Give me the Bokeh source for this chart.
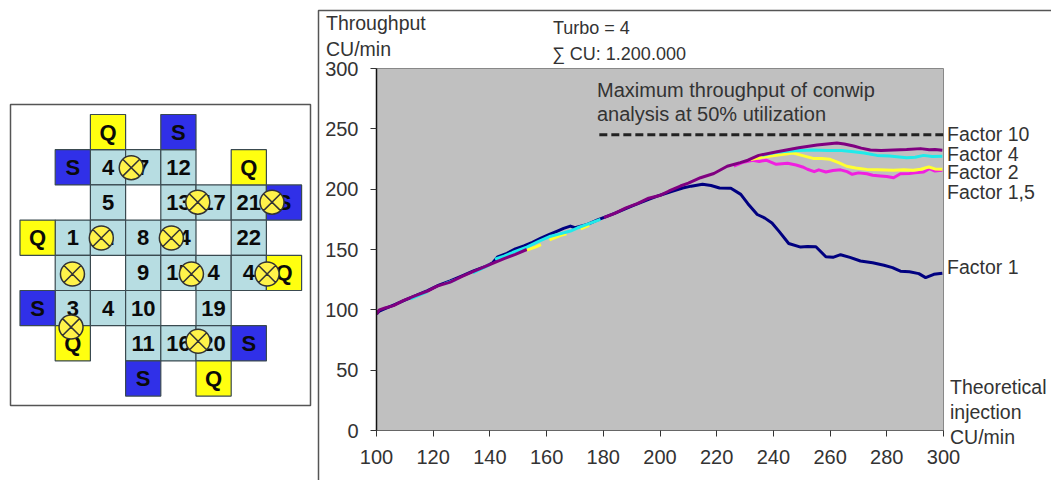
from bokeh.embed import file_html
from bokeh.resources import INLINE
from bokeh.models import ColumnDataSource, FixedTicker, LinearAxis, Range1d
from bokeh.plotting import figure
from bokeh.core.properties import value

FONT = "Liberation Sans"
TEXT = "#333333"

# ---- diagram ---- (col, row, label) in grid cells
cells_col = [2, 3, 4, 2, 4, 5, 6, 1, 2, 3, 4, 6, 1, 3, 4, 5, 6, 1, 2, 3, 5, 3, 4, 5]
cells_row = [1, 1, 1, 2, 2, 2, 2, 3, 3, 3, 3, 3, 4, 4, 4, 4, 4, 5, 5, 5, 5, 6, 6, 6]
cells_lab = ["4", "7", "12", "5", "13", "17", "21", "1", "2", "8", "14", "22", "2", "9", "15", "4", "4",
             "3", "4", "10", "19", "11", "16", "20"]
q_col = [2, 6, 0, 7, 1, 5]
q_row = [0, 1, 3, 4, 6, 7]
s_col = [4, 1, 7, 0, 6, 3]
s_row = [0, 1, 2, 5, 6, 7]
lamp_col = [3.16, 5.05, 7.16, 2.31, 4.30, 1.49, 4.87, 7.02, 1.45, 5.06]
lamp_row = [1.51, 2.49, 2.49, 3.51, 3.51, 4.53, 4.53, 4.53, 6.04, 6.44]

# ---- chart ----
x_ticks = [100, 120, 140, 160, 180, 200, 220, 240, 260, 280, 300]
y_ticks = [0, 50, 100, 150, 200, 250, 300]
grid_levels = [50, 100, 150, 200, 250]

f1_x = [100, 101, 103, 106, 110, 114, 118, 122, 126, 130, 134, 138, 141, 142.7, 146, 149, 152, 155, 158, 161, 164, 166,
        168.4, 170, 174, 178, 184, 190, 196, 200, 204, 208, 211, 215, 218, 221, 225, 228.5, 231, 234.3, 237, 239.5,
        242, 245.4, 249.6, 252, 255, 258.5, 261, 263.7, 267, 270.7, 275, 279, 282, 284.8, 288, 291.3, 293.7, 296.6, 299.6]
f1_y = [96.5, 99, 101, 104, 108, 112, 116, 120.5, 124, 128, 132, 135.5, 139, 143.8, 146.8, 150.5, 153, 156, 159.5, 162.6, 165.5, 167.5,
        169.4, 168, 170.5, 174.5, 180, 186, 191.5, 195, 198, 201, 202.5, 204, 203, 201, 200.7, 195.7, 188, 179, 176, 172,
        165, 155, 152, 152.5, 152.3, 144, 143.5, 145.7, 143.5, 140.5, 139, 137, 135, 132, 131.5, 130, 126.7, 129.4, 130.3]

f10_x = [100, 101, 103, 106, 109.6, 114, 118, 121.4, 126, 130, 133.2, 137, 141.4, 145, 149, 153, None,
         180.2, 184, 188, 192, 196, 200.2, 203.2, 207.2, 210, 214.3, 219, 223.7, 228.3, 231, 234.8, 241.3, 248.9,
         255.4, 262.4, 265, 268.3, 271, 274.2, 278, 282.4, 287, 291.9, 295, 297, 299.6]
f10_y = [96.5, 100, 101.5, 103.5, 107.9, 112, 115.5, 119.7, 123, 127.5, 130.8, 134.5, 139, 142.5, 146, 150, None,
         176.4, 180, 184.5, 188, 192.5, 195, 198.5, 202.6, 205, 209.5, 213, 219, 222, 224, 228, 231, 234.4,
         236.6, 238.3, 237.5, 235.8, 234, 232.4, 232, 232.4, 232.8, 233.6, 232.6, 232.9, 232.2]

f4_x = [112, 118, None, 124, 128, None, 134, 140, None, 141.8, 145, 148, 153, 157, 161.4, 164, 168.4, 171, 175, 179, None,
        236, 241, 245, 249, 254, 259, 264, 268.3, 272, 276.5, 281, 287, 290, 293, 296, 299.6]
f4_y = [109, 115, None, 121.5, 125, None, 130.5, 137.5, None, 142, 144.5, 147.5, 152, 156.5, 161, 162.5, 165.3, 168, 171.5, 175, None,
        228, 230.5, 231.5, 232, 232.5, 232, 232, 231, 230, 228, 227.5, 226, 226.5, 228, 227, 227.2]

f2_x = [153, 156, 158, None, 161, 165, 167, None, 172, 175, None, 232, 236, 241, 247, 250, 254, 257, 260, 263,
        265.8, 269, 272.9, 277, 282.3, 286, 289.3, 292, 294.8, 297, 299.6]
f2_y = [149.5, 152, 154, None, 158, 161.7, 163, None, 167, 170, None, 224.5, 226.5, 228, 230, 228, 225.5, 225.5, 224.7, 222,
        219, 217.5, 216.4, 216, 215.6, 216, 215.6, 216.5, 218.4, 216.8, 216.5]

f15_x = [226, 229, 232.7, 235, 237.4, 241, 245, 248, 250.3, 252, 254.4, 256, 258.5, 261, 263.7, 266, 267.8, 270,
         273, 275, 277.7, 280, 282.4, 284.8, 288, 290, 293, 295, 297, 299.6]
f15_y = [219, 222, 224, 223, 224, 220.6, 221.4, 220, 218.4, 216.5, 214.5, 216, 214.2, 215.5, 216, 214.5, 212.3, 213.5,
         212.8, 211.5, 210.9, 210.5, 209.5, 212.8, 213, 213.5, 214.2, 217, 215, 215.6]

dash_x = [178.6, 300]
dash_y = [245, 245]

# free texts on the page (x, y centre, size)
txt_x = [325.5, 325.5, 552.5, 551.5, 596.5, 596.5, 946.5, 946.5, 946.5, 946.5, 946.5, 949.5, 949.5, 949.5]
txt_y = [22, 48, 27, 53, 89, 113, 133, 153, 171, 191, 266, 386, 411, 436]
txt_s = ["Throughput", "CU/min", "Turbo = 4", "\u2211 CU: 1.200.000",
         "Maximum throughput of conwip", "analysis at 50% utilization",
         "Factor 10", "Factor 4", "Factor 2", "Factor 1,5", "Factor 1",
         "Theoretical", "injection", "CU/min"]
txt_size = ["19.5px", "19.5px", "18px", "18px", "20px", "20px"] + ["19.5px"] * 8

ABS = {"position": "absolute", "left": "0px", "top": "0px"}

# ---------------- left diagram -----------------
U = 35.2
GX, GY = 19.5, 114.0
def gx(px):
    return (px - GX) / U
def gy(py):
    return (py - GY) / U

left = figure(width=318, height=480, output_backend="svg", toolbar_location=None,
              x_range=Range1d(gx(0), gx(318)), y_range=Range1d(gy(480), gy(0)),
              min_border=0, outline_line_color=None, background_fill_color="white",
              border_fill_color="white", styles=ABS)
left.axis.visible = False
left.grid.visible = False

left.quad(left=[gx(10)], right=[gx(310)], top=[gy(104)], bottom=[gy(405)],
          fill_color="white", line_color="#555555", line_width=1.5)

def cell_quads(cols, rows, fill):
    src = ColumnDataSource(dict(l=cols, r=[c + 1 for c in cols], t=rows, b=[r + 1 for r in rows]))
    left.quad(left="l", right="r", top="t", bottom="b", source=src,
              fill_color=fill, line_color="#3a4a50", line_width=1.2)

cell_quads(cells_col, cells_row, "#b7dde2")
cell_quads(q_col, q_row, "#ffff10")
cell_quads(s_col, s_row, "#3030e8")

def cell_text(cols, rows, labels, size):
    src = ColumnDataSource(dict(x=[c + 0.5 for c in cols], y=[r + 0.5 for r in rows], t=labels))
    left.text(x="x", y="y", text="t", source=src, text_font=value(FONT), text_font_style="bold",
              text_font_size=size, text_color="#0a0a0a", text_align="center", text_baseline="middle")

cell_text(cells_col, cells_row, cells_lab, "22px")
cell_text(q_col, q_row, ["Q"] * len(q_col), "22px")
cell_text(s_col, s_row, ["S"] * len(s_col), "22px")

left.scatter(lamp_col, lamp_row, marker="circle_x", size=24, fill_color="#fff24a",
             line_color="#333333", line_width=1.5)

# ---------------- right chart -----------------
p = figure(width=733, height=480, output_backend="svg", toolbar_location=None,
           x_range=Range1d(100, 300), y_range=Range1d(0, 300),
           min_border_left=58, min_border_right=108, min_border_top=68, min_border_bottom=50,
           background_fill_color="#c0c0c0", border_fill_color="white",
           outline_line_color="#888888", outline_line_width=1, x_axis_type=None, y_axis_type=None,
           styles={"position": "absolute", "left": "318px", "top": "0px"})

xa = LinearAxis(ticker=FixedTicker(ticks=x_ticks))
ya = LinearAxis(ticker=FixedTicker(ticks=y_ticks))
for ax in (xa, ya):
    ax.major_label_text_font = FONT
    ax.major_label_text_font_size = "20px"
    ax.major_label_text_color = TEXT
    ax.major_tick_out = 6
    ax.major_tick_in = 0
    ax.minor_tick_out = 0
    ax.minor_tick_in = 0
    ax.major_tick_line_color = "#333333"
xa.major_label_standoff = 13
ya.major_label_standoff = 12
xa.axis_line_color = "#666666"
ya.axis_line_color = "#111111"
ya.axis_line_width = 1.5
p.add_layout(xa, "below")
p.add_layout(ya, "left")

p.xgrid.visible = False
p.ygrid.ticker = FixedTicker(ticks=grid_levels)
p.ygrid.grid_line_color = "#1e1e1e"
p.ygrid.grid_line_width = 1.3

def strip(v):
    return [float("nan") if a is None else a for a in v]

LW = 3
p.line(strip(f1_x), strip(f1_y), line_color="#000080", line_width=LW, line_join="round")
p.line(strip(f15_x), strip(f15_y), line_color="#f020e0", line_width=LW, line_join="round")
p.line(strip(f2_x), strip(f2_y), line_color="#ffff30", line_width=LW, line_join="round")
p.line(strip(f4_x), strip(f4_y), line_color="#20eaea", line_width=LW, line_join="round")
p.line(strip(f10_x), strip(f10_y), line_color="#800080", line_width=LW, line_join="round")
p.line(dash_x, dash_y, line_color="#222222", line_width=3, line_dash="8 4")

# ---------------- transparent sheet over the whole page: free texts and panel edges -----------------
o = figure(width=1051, height=480, output_backend="svg", toolbar_location=None,
           x_range=Range1d(0, 1051), y_range=Range1d(480, 0), min_border=0,
           outline_line_color=None, background_fill_alpha=0, border_fill_alpha=0,
           styles=ABS)
o.axis.visible = False
o.grid.visible = False
o.text(x="x", y="y", text="t", text_font_size="s",
       source=ColumnDataSource(dict(x=txt_x, y=txt_y, t=txt_s, s=txt_size)),
       text_font=value(FONT), text_color=TEXT, text_align="left", text_baseline="middle")
o.line([1051, 318, 318], [10, 10, 480], line_color="#555555", line_width=1.5)

open("out.html", "w").write(file_html([left, p, o], INLINE))
